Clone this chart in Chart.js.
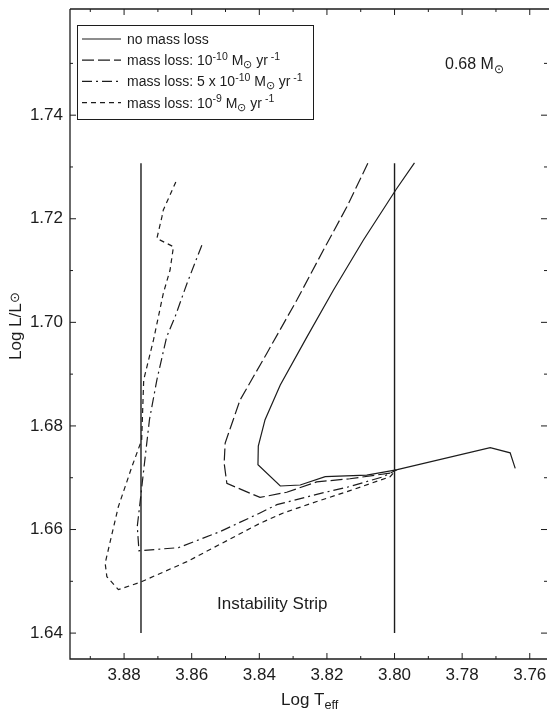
<!DOCTYPE html>
<html>
<head>
<meta charset="utf-8">
<script src="https://cdn.jsdelivr.net/npm/chart.js@4"></script>
<style>
html, body { margin: 0; padding: 0; background: #fff; }
</style>
</head>
<body>
<canvas id="myChart" width="549" height="709"></canvas>
<script>
var FONT = '"Liberation Sans", Arial, Helvetica, sans-serif';
var ink = '#1c1c1c';

// tick labels
var xTicks = [3.76, 3.78, 3.80, 3.82, 3.84, 3.86, 3.88];
var yTicks = [1.64, 1.66, 1.68, 1.70, 1.72, 1.74];

// instability strip edges
var stripT = [3.875, 3.80];
var stripL = [1.64, 1.7307];

// no mass loss
var solidT = [3.7941, 3.7995, 3.8092, 3.8181, 3.8259, 3.8338, 3.8383, 3.8403, 3.8404, 3.8338, 3.8279, 3.8205, 3.8082, 3.7995, 3.7717, 3.7658, 3.7643];
var solidL = [1.7308, 1.7257, 1.7159, 1.7062, 1.6972, 1.6879, 1.6812, 1.6761, 1.6725, 1.6684, 1.6686, 1.6702, 1.6705, 1.6715, 1.6758, 1.6748, 1.6718];

// mass loss 1e-10
var longT = [3.8079, 3.8141, 3.8210, 3.8289, 3.8378, 3.8457, 3.8501, 3.8504, 3.8496, 3.8398, 3.8319, 3.8230, 3.8132, 3.8013, 3.7995];
var longL = [1.7307, 1.7223, 1.7140, 1.7043, 1.6940, 1.6850, 1.6767, 1.6728, 1.6689, 1.6662, 1.6672, 1.6692, 1.6698, 1.6709, 1.6715];

// mass loss 5e-10
var dashDotT = [3.8570, 3.8614, 3.8649, 3.8674, 3.8703, 3.8725, 3.8743, 3.8753, 3.8761, 3.8756, 3.8639, 3.8516, 3.8398, 3.8348, 3.8230, 3.8132, 3.8033, 3.7995];
var dashDotL = [1.7149, 1.7075, 1.7011, 1.6972, 1.6889, 1.6812, 1.6709, 1.6651, 1.6606, 1.6559, 1.6565, 1.6596, 1.6632, 1.6648, 1.6668, 1.6683, 1.6702, 1.6715];

// mass loss 1e-9
var shortT = [3.8647, 3.8684, 3.8688, 3.8703, 3.8654, 3.8664, 3.8684, 3.8713, 3.8742, 3.8748, 3.8777, 3.8817, 3.8856, 3.8851, 3.8817, 3.8753, 3.8614, 3.8398, 3.8329, 3.8230, 3.8132, 3.8013, 3.7995];
var shortL = [1.7271, 1.7217, 1.7204, 1.7162, 1.7146, 1.7101, 1.7056, 1.6966, 1.6889, 1.6773, 1.6721, 1.6644, 1.6535, 1.6509, 1.6484, 1.6498, 1.6538, 1.6612, 1.6632, 1.6654, 1.6675, 1.6702, 1.6715];

var longDash = [12, 4];
var dashDot = [10, 4, 2, 4];
var shortDash = [5, 4];

function pts(xs, ys) {
    return xs.map(function (x, i) { return { x: x, y: ys[i] }; });
}

function line(data, dash, width) {
    return {
        data: data,
        showLine: true,
        borderColor: ink,
        borderWidth: width || 1.2,
        borderDash: dash || [],
        pointRadius: 0,
        tension: 0,
        fill: false
    };
}

// draws text with sup (1) / sub (2) parts
function rich(ctx, x, y, parts, size) {
    parts.forEach(function (p) {
        var s = p[1] ? size * 0.75 : size;
        var dy = 0;
        if (p[1] === 1) dy = -size * 0.4;
        if (p[1] === 2) dy = size * 0.22;
        if (p[1] === 3) dy = -size * 0.12;
        ctx.font = s + 'px ' + FONT;
        ctx.fillText(p[0], x, y + dy);
        x += ctx.measureText(p[0]).width;
    });
    return x;
}

var legendRows = [
    { dash: [], parts: [['no mass loss', 0]] },
    { dash: longDash, parts: [['mass loss: 10', 0], ['-10', 1], [' M', 0], ['\u2299', 2], [' yr', 0], [' -1', 1]] },
    { dash: dashDot, parts: [['mass loss: 5 x 10', 0], ['-10', 1], [' M', 0], ['\u2299', 2], [' yr', 0], [' -1', 1]] },
    { dash: shortDash, parts: [['mass loss: 10', 0], ['-9', 1], [' M', 0], ['\u2299', 2], [' yr', 0], [' -1', 1]] }
];

var decor = {
    id: 'decor',
    afterDraw: function (chart) {
        var ctx = chart.ctx;
        var a = chart.chartArea;
        var xs = chart.scales.x, ys = chart.scales.y;
        ctx.save();
        ctx.strokeStyle = ink;
        ctx.fillStyle = ink;
        ctx.lineWidth = 1.3;
        ctx.setLineDash([]);

        // frame (left, bottom, top)
        ctx.beginPath();
        ctx.moveTo(a.left, a.top);
        ctx.lineTo(a.left, a.bottom);
        ctx.lineTo(a.right, a.bottom);
        ctx.moveTo(a.left, a.top);
        ctx.lineTo(549, a.top);
        ctx.stroke();

        // inward ticks
        ctx.lineWidth = 1;
        ctx.beginPath();
        for (var i = 0; i <= 13; i++) {
            var t = 3.76 + i * 0.01;
            var px = xs.getPixelForValue(t);
            if (px < a.left + 2 || px > a.right) continue;
            var len = (i % 2 === 0) ? 6 : 3;
            ctx.moveTo(px, a.bottom); ctx.lineTo(px, a.bottom - len);
            ctx.moveTo(px, a.top); ctx.lineTo(px, a.top + len);
        }
        for (var j = 0; j <= 11; j++) {
            var l = 1.64 + j * 0.01;
            var py = ys.getPixelForValue(l);
            if (py < a.top + 2) continue;
            var len2 = (j % 2 === 0) ? 6 : 3;
            ctx.moveTo(a.left, py); ctx.lineTo(a.left + len2, py);
            ctx.moveTo(a.right, py); ctx.lineTo(a.right - len2, py);
        }
        ctx.stroke();

        // legend box
        ctx.lineWidth = 1;
        ctx.strokeRect(77.5, 25.5, 236, 94);
        ctx.textBaseline = 'alphabetic';
        ctx.textAlign = 'left';
        legendRows.forEach(function (r, k) {
            var y = 39 + k * 21.2;
            ctx.lineWidth = 1.2;
            ctx.setLineDash(r.dash);
            ctx.beginPath();
            ctx.moveTo(82, y);
            ctx.lineTo(121, y);
            ctx.stroke();
            ctx.setLineDash([]);
            rich(ctx, 127, y + 5, r.parts, 14);
        });

        // annotations
        rich(ctx, 445, 69, [['0.68 M', 0], ['\u2299', 2]], 16);
        ctx.font = '17px ' + FONT;
        ctx.fillText('Instability Strip', 217, 608.5);

        // axis titles
        rich(ctx, 281, 705, [['Log T', 0], ['eff', 2]], 17);
        ctx.translate(21, 360);
        ctx.rotate(-Math.PI / 2);
        rich(ctx, 0, 0, [['Log L/L', 0], ['\u2299', 3]], 17);
        ctx.restore();
    }
};

var ctx = document.getElementById('myChart').getContext('2d');
var myChart = new Chart(ctx, {
    type: 'scatter',
    data: {
        datasets: [
            line(pts([stripT[0], stripT[0]], stripL), [], 1.4),
            line(pts([stripT[1], stripT[1]], stripL), [], 1.4),
            line(pts(solidT, solidL)),
            line(pts(longT, longL), longDash),
            line(pts(dashDotT, dashDotL), dashDot),
            line(pts(shortT, shortL), shortDash)
        ]
    },
    plugins: [decor],
    options: {
        responsive: false,
        animation: false,
        layout: { padding: { top: 9, right: 2, left: 0, bottom: 0 } },
        plugins: {
            legend: { display: false },
            tooltip: { enabled: false }
        },
        scales: {
            x: {
                type: 'linear',
                reverse: true,
                min: 3.7549,
                max: 3.8960,
                grid: { display: false, drawTicks: false },
                border: { display: false },
                ticks: {
                    padding: 6,
                    color: ink,
                    autoSkip: false,
                    maxRotation: 0,
                    font: { family: FONT, size: 17 },
                    callback: function (v) { return v.toFixed(2); }
                },
                afterBuildTicks: function (s) {
                    s.ticks = xTicks.map(function (v) { return { value: v }; });
                },
                afterFit: function (s) {
                    s.height = 50;
                    s.paddingLeft = 0;
                    s.paddingRight = 0;
                }
            },
            y: {
                type: 'linear',
                min: 1.6350,
                max: 1.7605,
                grid: { display: false, drawTicks: false },
                border: { display: false },
                ticks: {
                    padding: 7,
                    color: ink,
                    autoSkip: false,
                    font: { family: FONT, size: 17 },
                    callback: function (v) { return v.toFixed(2); }
                },
                afterBuildTicks: function (s) {
                    s.ticks = yTicks.map(function (v) { return { value: v }; });
                },
                afterFit: function (s) {
                    s.width = 70;
                    s.paddingTop = 0;
                    s.paddingBottom = 0;
                }
            }
        }
    }
});
</script>
</body>
</html>
